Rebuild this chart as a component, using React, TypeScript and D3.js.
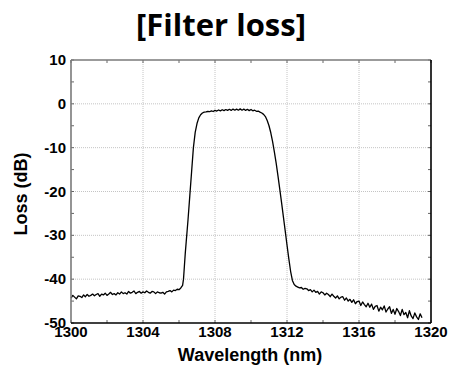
import React from "react";
import * as d3 from "d3";

const TITLE = "[Filter loss]";
const X_LABEL = "Wavelength (nm)";
const Y_LABEL = "Loss (dB)";
const X_TICKS = [1300, 1304, 1308, 1312, 1316, 1320];
const Y_TICKS = [10, 0, -10, -20, -30, -40, -50];
const X_MINOR = [1302, 1306, 1310, 1314, 1318];
const Y_MINOR = [5, -5, -15, -25, -35, -45];

// Left out-of-band noise floor, 1300.0–1306.2 nm, 0.1 nm step
const leftNoiseStart = 1300.0;
const leftNoise = [
  -44.3, -43.7, -44.1, -44.5, -43.8, -43.9, -44.2, -43.6, -44.0, -43.5,
  -43.9, -43.7, -43.4, -43.8, -43.5, -43.3, -43.9, -43.4, -43.6, -43.2,
  -43.7, -43.4, -43.0, -43.5, -43.3, -43.6, -43.1, -43.4, -42.9, -43.3,
  -43.1, -43.4, -42.8, -43.2, -43.0, -42.7, -43.3, -43.0, -42.8, -43.2,
  -42.9, -43.1, -42.7, -43.0, -43.2, -42.8, -42.9, -43.3, -42.9, -43.1,
  -43.2, -43.0, -43.4, -42.9, -42.8, -42.6, -42.9, -42.5, -42.6, -42.3,
  -42.4, -42.0, -41.4,
];

// Rising edge
const leftEdgeWl = [1306.25, 1306.3, 1306.35, 1306.4, 1306.45, 1306.5, 1306.6, 1306.7, 1306.8, 1306.9, 1307.0, 1307.1, 1307.2, 1307.3, 1307.4];
const leftEdgeLoss = [-40, -37, -34, -31.5, -29, -26.5, -21, -15.5, -10, -6.5, -4.5, -3.2, -2.5, -2.1, -1.9];

// Passband top, 1307.5–1310.6 nm, 0.1 nm step
const topStart = 1307.5;
const topLoss = [
  -1.85, -1.75, -1.8, -1.6, -1.75, -1.5, -1.65, -1.4, -1.6, -1.35,
  -1.55, -1.3, -1.5, -1.25, -1.5, -1.2, -1.45, -1.2, -1.45, -1.15,
  -1.45, -1.2, -1.5, -1.25, -1.55, -1.3, -1.6, -1.45, -1.7, -1.65,
  -1.9, -2.1,
];

// Falling edge
const rightEdgeWl = [1310.7, 1310.8, 1310.9, 1311.0, 1311.1, 1311.2, 1311.3, 1311.4, 1311.5, 1311.6, 1311.7, 1311.8, 1311.9, 1312.0, 1312.1, 1312.2, 1312.3, 1312.4, 1312.5];
const rightEdgeLoss = [-2.4, -2.9, -3.8, -5.0, -6.6, -8.6, -11, -13.6, -16.5, -19.5, -22.6, -25.8, -29, -32.2, -35.3, -38.2, -40.3, -41.2, -41.6];

// Right out-of-band noise floor, 1312.6–1319.5 nm, 0.1 nm step
const rightNoiseStart = 1312.6;
const rightNoise = [
  -41.8, -42.0, -41.9, -42.3, -42.1, -42.2, -42.6, -42.4, -42.9, -42.5,
  -43.0, -42.8, -43.4, -42.9, -43.1, -43.6, -43.2, -43.5, -44.0, -43.4,
  -43.9, -44.3, -43.8, -44.5, -44.1, -44.0, -44.8, -44.3, -45.0, -44.6,
  -45.3, -44.7, -45.6, -45.1, -45.0, -46.0, -45.2, -45.8, -46.3, -45.5,
  -46.4, -45.7, -46.9, -46.2, -46.0, -47.3, -46.4, -47.0, -46.1, -47.5,
  -46.8, -46.3, -47.8, -46.9, -48.0, -46.7, -47.4, -48.3, -46.9, -48.1,
  -47.6, -48.8, -47.2, -48.4, -49.0, -47.7, -48.6, -49.2, -47.9, -48.8,
];

type Pt = [number, number];
function gridSeg(start: number, vals: number[]): Pt[] {
  return vals.map((v, i) => [+(start + i * 0.1).toFixed(2), v]);
}
function pairSeg(wl: number[], vals: number[]): Pt[] {
  return wl.map((w, i) => [w, vals[i]]);
}
const trace: Pt[] = [
  ...gridSeg(leftNoiseStart, leftNoise),
  ...pairSeg(leftEdgeWl, leftEdgeLoss),
  ...gridSeg(topStart, topLoss),
  ...pairSeg(rightEdgeWl, rightEdgeLoss),
  ...gridSeg(rightNoiseStart, rightNoise),
];

const W = 453;
const H = 368;
const L = 71, R = 431, T = 60, B = 323;

export default function App() {
  const x = d3.scaleLinear().domain([1300, 1320]).range([L, R]);
  const y = d3.scaleLinear().domain([-50, 10]).range([B, T]);
  const line = d3.line<Pt>().x((d) => x(d[0])).y((d) => y(d[1]));
  const font = "'Liberation Sans', Arial, sans-serif";
  const tl = 3;
  return (
    <svg width={W} height={H} style={{ position: "absolute", left: 0, top: 0, background: "#fff" }}>
      <rect x={0} y={0} width={W} height={H} fill="#fff" />
      <text x={221} y={36} textAnchor="middle" fontFamily="'Open Sans', sans-serif" fontWeight={700} fontSize={31} fill="#000">
        {TITLE}
      </text>
      {/* grid */}
      {X_TICKS.filter((t) => t > 1300 && t < 1320).map((t) => (
        <line key={"gx" + t} x1={x(t)} x2={x(t)} y1={T} y2={B} stroke="#c4c4c4" strokeWidth={1} strokeDasharray="1,1" />
      ))}
      {Y_TICKS.filter((t) => t > -50 && t < 10).map((t) => (
        <line key={"gy" + t} x1={L} x2={R} y1={y(t)} y2={y(t)} stroke="#c4c4c4" strokeWidth={1} strokeDasharray="1,1" />
      ))}
      {/* ticks */}
      {[...X_TICKS, ...X_MINOR].map((t) => (
        <g key={"tx" + t}>
          <line x1={x(t)} x2={x(t)} y1={T} y2={T + tl} stroke="#666" />
          <line x1={x(t)} x2={x(t)} y1={B} y2={B - tl} stroke="#666" />
        </g>
      ))}
      {[...Y_TICKS, ...Y_MINOR].map((t) => (
        <g key={"ty" + t}>
          <line x1={L} x2={L + tl} y1={y(t)} y2={y(t)} stroke="#666" />
          <line x1={R} x2={R - tl} y1={y(t)} y2={y(t)} stroke="#666" />
        </g>
      ))}
      {/* trace */}
      <path d={line(trace) || ""} fill="none" stroke="#000" strokeWidth={1.3} strokeLinejoin="round" />
      {/* frame */}
      <line x1={L} x2={R} y1={T} y2={T} stroke="#7a7a7a" strokeWidth={1.6} />
      <line x1={L} x2={L} y1={T} y2={B} stroke="#7a7a7a" strokeWidth={1.6} />
      <line x1={L} x2={R} y1={B} y2={B} stroke="#000" strokeWidth={1.6} />
      <line x1={R} x2={R} y1={T} y2={B} stroke="#000" strokeWidth={1.6} />
      {/* tick labels */}
      {Y_TICKS.map((t) => (
        <text key={"ly" + t} x={L - 5} y={y(t) + 5} textAnchor="end" fontFamily={font} fontWeight={700} fontSize={15} fill="#000">
          {t}
        </text>
      ))}
      {X_TICKS.map((t) => (
        <text key={"lx" + t} x={x(t)} y={337} textAnchor="middle" fontFamily={font} fontWeight={700} fontSize={15} fill="#000">
          {t}
        </text>
      ))}
      <text x={250} y={361} textAnchor="middle" fontFamily={font} fontWeight={700} fontSize={18} fill="#000">
        {X_LABEL}
      </text>
      <text transform={`translate(27,194) rotate(-90)`} textAnchor="middle" fontFamily={font} fontWeight={700} fontSize={18} fill="#000">
        {Y_LABEL}
      </text>
    </svg>
  );
}
